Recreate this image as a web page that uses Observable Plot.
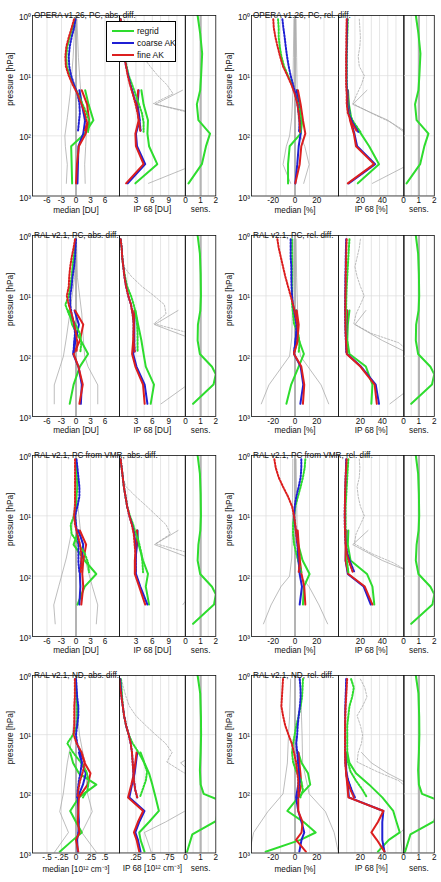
<!DOCTYPE html>
<html>
<head>
<meta charset="utf-8">
<script src="https://cdn.jsdelivr.net/npm/d3@7"></script>
<script src="https://cdn.jsdelivr.net/npm/@observablehq/plot@0.6"></script>
<style>
  html, body { margin: 0; padding: 0; background: #fff; }
  #fig { position: relative; width: 441px; height: 882px; overflow: hidden;
         font-family: "Liberation Sans", Arial, Helvetica, sans-serif; }
  #fig > svg { position: absolute; overflow: visible; }
  .legend { position: absolute; background: #fff; border: 0.8px solid #000; box-sizing: border-box;
            font-size: 8.5px; color: #111; }
  .legend .entry { position: absolute; left: 5px; height: 11px; display: flex; align-items: center; white-space: nowrap; }
</style>
</head>
<body>
<div id="fig"></div>
<script>
// ---------------------------------------------------------------------------
// Pressure levels [hPa]
const pLayerA = [617, 296, 149, 92, 55, 30, 17.5];            // coarse layers, rows 1-2
const pLayerB = [296, 149, 92, 55, 30, 17.5];                 // coarse layers, row 3
const pLayerC = [950, 600, 450, 300, 195, 115, 70, 45, 30, 20]; // layers, row 4
const pFineA = [1.15, 1.6, 2.3, 3.3, 4.8, 7, 10, 14, 20, 29, 42, 60, 86];
const pFineC = [1.15, 1.6, 2.3, 3.3, 4.8, 7, 10, 14, 20, 29, 42, 60, 86, 115];
const pEnvA = [1.15, 5, 20, 50, 100, 150, 300, 617];
const pEnvC = [1.15, 5, 10, 30, 100, 200, 450, 1000];
const pSensA = [1, 2, 4.3, 10, 17.5, 30, 55, 92, 150, 296, 617];
const pSensB = [1, 2, 4.3, 10, 17.5, 30, 55, 92, 150, 200, 296, 617];
const pSensC = [1, 2, 5, 10, 20, 40, 70, 100, 130, 290, 485, 1000];

// Sensitivity profiles
const sensOpera = [0.8, 0.97, 1.1, 1.03, 0.97, 0.75, 0.85, 1.62, 1.35, 1.08, 0.2];
const sensRalPC = [0.8, 0.95, 1.0, 1.02, 0.98, 0.82, 0.8, 0.95, 1.75, 2.0, 1.85, 0.5];
const sensRalVMR = [0.8, 0.95, 1.0, 1.02, 0.98, 0.85, 0.8, 0.97, 1.75, 2.0, 1.88, 0.5];
const sensRalND = [0.8, 0.97, 1.02, 1.03, 1.0, 0.95, 1.0, 1.2, 2.3, 2.0, 0.45, 0.08];

// OPERA v1.26, PC, absolute difference [DU]
const oaMedG = [-0.8, -0.9, -1.0, 1.8, 3.6, 2.6, 1.9];
const oaMedB = [0.3, 0.4, 0.5, 1.5, 1.9, 1.2, 0.7];
const oaMedR = [0.0, 0.2, 0.6, 2.0, 2.7, 2.3, 1.2];
const oaMedGd = [-0.2, -0.7, -1.3, -1.8, -2.0, -1.9, -1.3, -0.5, 0.4, 1.3, 2.2, 2.8, 2.5];
const oaMedBd = [-0.1, -0.4, -0.9, -1.3, -1.5, -1.4, -1.0, -0.4, 0.3, 0.7, 0.8, 0.6, 0.4];
const oaMedRd = [-0.4, -0.9, -1.5, -2.0, -2.2, -2.1, -1.5, -0.7, 0.3, 1.1, 1.8, 2.3, 1.8];
const oaEnvLo = [-0.2, -0.6, -1.2, -1.8, -2.3, -2.2, -1.8, -2.0];
const oaEnvHi = [0.2, 0.5, 1.0, 1.6, 2.1, 2.0, 1.8, 1.9];
const oaIpG = [2.9, 6.9, 5.4, 5.1, 5.2, 4.4, 4.0];
const oaIpB = [1.5, 4.7, 3.2, 3.0, 3.7, 3.3, 3.5];
const oaIpR = [1.2, 4.4, 3.0, 2.9, 3.5, 3.2, 3.4];
const oaIpGd = [0.2, 0.3, 0.5, 0.7, 0.9, 1.3, 1.7, 2.3, 2.9, 3.5, 4.1, 4.4, 4.4];
const oaIpBd = [0.2, 0.3, 0.5, 0.7, 0.9, 1.2, 1.6, 2.0, 2.5, 3.0, 3.4, 3.7, 3.9];
const oaIpRd = [0.2, 0.3, 0.5, 0.7, 0.9, 1.2, 1.5, 1.9, 2.4, 2.9, 3.3, 3.6, 3.8];
const oaIpGrayLo = [5.3, 14, 20, 20, 20, 6.5, 11.5];
const oaIpGrayHi = [0.8, 1.3, 2.0, 3.0, 4.2, 5.6, 7.0, 8.6, 9.8, 6.2, 13, 15, 15];

// OPERA v1.26, PC, relative difference [%]
const orMedG = [-6.4, -6.4, -4.9, 5.2, 6.7, 4.0, 2.1];
const orMedB = [0.3, 2.1, 3.4, 5.2, 4.9, 3.4, 1.5];
const orMedR = [0.3, 4.3, 5.8, 9.5, 7.3, 5.2, 2.7];
const orMedGd = [-15.6, -15, -15, -14, -12.5, -10, -6.4, -2.7, 0.3, 2.7, 4.6, 5.8, 4.9];
const orMedBd = [-11.6, -10.7, -9.5, -8.5, -7.3, -5.8, -4, -1.8, 0.3, 2.1, 3.4, 4.3, 3.7];
const orMedRd = [-20, -19.5, -18, -16, -13.7, -11, -7, -3.4, -0.3, 2.1, 3.4, 4.3, 4.6];
const orEnvLo = [-1, -1.5, -2, -3, -5, -8, -11, -4];
const orEnvHi = [1, 1.5, 2, 3, 5, 9, 13, 8];
const orIpG = [17.6, 37, 28, 20.5, 12, 9.5, 8.7];
const orIpB = [9.3, 33.5, 17, 14.5, 11, 9, 8.3];
const orIpR = [8.5, 32.5, 16, 14, 10.5, 8.5, 8];
const orIpGd = [8.5, 8.3, 8, 7.8, 7.5, 7.5, 7.5, 7.6, 8, 8.3, 9.5, 14, 20];
const orIpBd = [8, 7.8, 7.6, 7.5, 7.3, 7.3, 7.3, 7.4, 7.7, 8, 9, 13, 18];
const orIpRd = [7.5, 7.3, 7.2, 7.2, 7, 7, 7, 7, 7.5, 7.5, 8.5, 12, 17];
const orIpGrayLo = [31, 65, 70, 62, 45, 13, 26];
const orIpGrayHi = [19, 19.5, 20, 19.5, 18, 19, 23.6, 21, 17, 13, 30, 48, 62];

// RAL v2.1, PC, absolute difference [DU]
const raMedG = [-1.3, -0.5, 0.8, 2.5, 1.0, -0.8, -1.5];
const raMedB = [1.0, 1.2, 0.5, -0.6, -0.1, 0.6, -0.3];
const raMedR = [0.7, 1.4, 0.5, -0.5, 0.8, 1.5, -0.2];
const raMedGd = [-0.1, -0.2, -0.5, -0.7, -0.9, -1.2, -1.5, -2.2, -1.5, -0.2, 0.8, 1.1, 0.9];
const raMedBd = [0, -0.1, -0.2, -0.4, -0.7, -0.9, -1.2, -1.2, -0.9, -0.4, -0.2, -0.4, -0.5];
const raMedRd = [-0.2, -0.5, -0.9, -1.2, -1.4, -1.5, -1.9, -1.5, -0.9, -0.4, 0, 0.3, 0.1];
const raEnvLo = [-0.1, -0.3, -1.3, -2, -2.6, -3.3, -4.5, -4.5];
const raEnvHi = [0.1, 0.3, 1.2, 1.5, 1.8, 2.5, 4.5, 4.5];
const raIpG = [5.7, 6.3, 4.8, 4.4, 4.0, 3.4, 2.9];
const raIpB = [5.1, 4.6, 3.1, 2.5, 2.7, 2.7, 2.8];
const raIpR = [4.6, 4.3, 2.9, 2.3, 2.5, 2.6, 2.7];
const raIpGd = [0.2, 0.4, 0.5, 0.7, 1.0, 1.4, 2.1, 2.6, 3.0, 3.2, 3.3, 3.3, 3.3];
const raIpBd = [0.2, 0.4, 0.5, 0.7, 0.9, 1.2, 1.6, 2.1, 2.4, 2.6, 2.6, 2.7, 2.8];
const raIpRd = [0.2, 0.4, 0.5, 0.7, 0.9, 1.2, 1.6, 2.1, 2.4, 2.6, 2.6, 2.6, 2.75];
const raIpGrayLo = [7.6, 12.5, 14, 14, 14, 6.4, 10.7];
const raIpGrayHi = [0.3, 0.4, 0.6, 0.8, 2.2, 4.1, 6.3, 8.2, 8.5, 6.3, 13, 14, 14];

// RAL v2.1, PC, relative difference [%]
const rrMedG = [-7.9, -3.5, 3.4, 8.2, 3.7, 1.5, 0.5];
const rrMedB = [4.9, 7.6, 5.2, -0.9, 0.5, 2.1, 1.2];
const rrMedR = [7.3, 8.5, 5.8, -0.9, 2.3, 3.4, 1.5];
const rrMedGd = [-2.7, -2.7, -2.7, -2.7, -2.7, -2.7, -2.7, -2.7, -1.8, -0.9, 2.7, 4.3, 3.4];
const rrMedBd = [-4, -4, -4, -3.4, -3.4, -3.2, -2.7, -1.8, -0.3, 1.2, 1.2, 0.3, -0.9];
const rrMedRd = [-16.2, -15, -13, -11, -8.9, -6.4, -4, -1.8, 0.3, 2.1, 2.7, 2.1, -0.9];
const rrEnvLo = [-1, -1.5, -2.5, -3, -5, -12, -24, -31];
const rrEnvHi = [1, 1.5, 2.5, 3, 5, 12, 24, 31];
const rrIpG = [30, 31, 25, 10, 8, 8.5, 10];
const rrIpB = [37, 34, 20.5, 7.8, 7.2, 7.4, 8];
const rrIpR = [35, 33, 20, 7.5, 7, 7.2, 7.8];
const rrIpGd = [10, 9.5, 9, 8.5, 8, 7.5, 7.2, 7, 7, 7.2, 7.5, 8, 8.5];
const rrIpBd = [7, 6.8, 6.6, 6.5, 6.3, 6.2, 6.1, 6, 6, 6.2, 6.4, 6.8, 7.2];
const rrIpRd = [7.5, 7.2, 7, 6.8, 6.6, 6.5, 6.3, 6.2, 6.2, 6.3, 6.5, 7, 7.5];
const rrIpGrayLo = [47, 70, 70, 65, 40, 15, 25];
const rrIpGrayHi = [20, 19, 17, 15, 17, 20, 23.5, 20, 16, 14, 30, 55, 65];

// RAL v2.1, PC from VMR, absolute difference [DU]
const vaMedG = [0.3, 1.8, 4.2, 1.8, -0.5, 0.5];
const vaMedB = [0.7, 0.9, 0.8, 1.1, 1.5, 0.5];
const vaMedR = [1.1, 1.5, 1.3, 1.5, 2.1, 0.8];
const vaMedGd = [0, 0.1, 0.2, 0.3, 0.1, 0, -0.4, -1.1, -0.9, 0.5, 1.8, 2.5, 2.7];
const vaMedBd = [0.1, 0.3, 0.5, 0.7, 0.7, 0.3, -0.2, 0, 0.3, 0.5, 0.5, 0.5, 0.7];
const vaMedRd = [-0.2, -0.2, -0.2, -0.2, -0.2, -0.2, -0.4, -0.2, 0.3, 0.8, 1.1, 1.1, 1.0];
const vaEnvLo = [0, -0.2, -1, -2, -3, -3.6, -4.6, -4.3];
const vaEnvHi = [0, 0.2, 1, 1.8, 2.8, 3.4, 4.5, 4.2];
const vaIpG = [5.4, 4.8, 5.2, 4.3, 3.5, 3.2];
const vaIpB = [5.1, 3.8, 3.0, 2.9, 3.2, 3.3];
const vaIpR = [4.7, 3.6, 2.8, 2.8, 3.1, 3.2];
const vaIpGd = [0.2, 0.4, 0.6, 0.8, 1.1, 1.4, 1.9, 2.5, 3.0, 3.6, 4.0, 4.2, 4.3];
const vaIpBd = [0.2, 0.4, 0.6, 0.8, 1.1, 1.4, 1.8, 2.3, 2.7, 2.9, 3.0, 3.0, 3.0];
const vaIpRd = [0.2, 0.4, 0.6, 0.8, 1.1, 1.4, 1.8, 2.25, 2.6, 2.75, 2.9, 2.9, 2.9];
const vaIpGrayLo = [11.6, 14, 14, 14, 6.4, 10.7];
const vaIpGrayHi = [0.2, 0.3, 0.6, 1.2, 3.0, 5.0, 6.8, 8.5, 9.3, 6.6, 13, 14, 14];

// RAL v2.1, PC from VMR, relative difference [%]
const vrMedG = [7.3, 8.2, 13.4, 7, 3, 1.5];
const vrMedB = [4.3, 6.4, 4.3, 3.4, 2.7, 1.5];
const vrMedR = [9.5, 8.5, 6, 4.5, 3.4, 2.5];
const vrMedGd = [9.5, 8.9, 7.3, 5.2, 2.7, 0.3, -0.9, -1.8, -1.8, -0.9, 1.2, 3.4, 5.8];
const vrMedBd = [5.8, 5.8, 5.2, 3.4, 1.2, -0.3, -0.9, 0, 1.2, 2.1, 2.7, 3.4, 4.3];
const vrMedRd = [-19, -17.7, -15, -11, -6.4, -2.7, -0.9, 0.3, 1.2, 2.7, 3.7, 4.3, 3.4];
const vrEnvLo = [-2, -2.2, -2.5, -3, -5, -13, -22, -29];
const vrEnvHi = [1, 1.5, 2, 3, 5, 13, 22, 30];
const vrIpG = [32.7, 31, 26, 11, 8.5, 9];
const vrIpB = [29.5, 23, 8.5, 6.5, 6.8, 7.2];
const vrIpR = [31, 24, 9, 6.5, 6.5, 7];
const vrIpGd = [9, 8.5, 8, 7.5, 7, 6.5, 6.5, 6.5, 6.5, 7, 7.5, 8, 9];
const vrIpBd = [7, 6.8, 6.5, 6.2, 6, 5.8, 5.7, 5.8, 6, 6.5, 8, 11, 14.5];
const vrIpRd = [7.5, 7, 6.5, 6.2, 6, 5.8, 5.7, 5.8, 6, 6.5, 7.5, 10, 13];
const vrIpGrayLo = [70, 70, 70, 40, 13, 27];
const vrIpGrayHi = [19, 19.5, 19, 17, 18, 20, 23.6, 20, 16, 14.5, 30, 50, 65];

// RAL v2.1, ND, absolute difference [10^12 cm^-3]
const naMedG = [-0.28, -0.05, 0.1, 0.0, -0.1, 0.05, 0.35, 0.05, -0.05, -0.1];
const naMedB = [0.03, 0.02, 0.04, 0.05, 0.04, 0.03, 0.12, 0.17, 0.1, 0.05];
const naMedR = [0.04, 0.0, 0.06, 0.03, 0.04, 0.05, 0.2, 0.25, 0.15, 0.08];
const naMedGd = [0, 0, 0.01, 0.02, 0.02, 0.02, -0.05, -0.15, -0.05, 0.08, 0.18, 0.22, 0.2, 0.12];
const naMedBd = [0, 0.01, 0.02, 0.04, 0.04, 0.02, 0, 0.02, 0.07, 0.1, 0.08, 0.05, 0.03, 0.02];
const naMedRd = [-0.02, -0.02, -0.02, -0.03, -0.03, -0.03, -0.04, 0.01, 0.1, 0.15, 0.12, 0.07, 0.04, 0.03];
const naEnvLo = [-0.01, -0.03, -0.06, -0.15, -0.22, -0.28, -0.13, -0.38];
const naEnvHi = [0.01, 0.03, 0.06, 0.15, 0.2, 0.28, 0.1, 0.36];
const naIpG = [0.38, 0.32, 0.30, 0.45, 0.6, 0.55, 0.5, 0.45, 0.38, 0.32];
const naIpB = [0.32, 0.28, 0.24, 0.3, 0.38, 0.15, 0.19, 0.23, 0.25, 0.27];
const naIpR = [0.30, 0.26, 0.22, 0.28, 0.36, 0.13, 0.18, 0.22, 0.24, 0.26];
const naIpGd = [0.02, 0.03, 0.04, 0.05, 0.07, 0.1, 0.14, 0.2, 0.29, 0.37, 0.42, 0.4, 0.35, 0.31];
const naIpBd = [0.01, 0.02, 0.03, 0.05, 0.07, 0.1, 0.14, 0.17, 0.19, 0.2, 0.21, 0.22, 0.24, 0.27];
const naIpRd = [0.0, 0.01, 0.03, 0.05, 0.07, 0.1, 0.14, 0.17, 0.19, 0.2, 0.21, 0.22, 0.24, 0.27];
const naIpGrayLo = [0.48, 0.42, 0.38, 0.7, 1.0, 1.2, 1.2, 1.1, 0.93, 1.2];
const naIpGrayHi = [0.03, 0.06, 0.1, 0.15, 0.25, 0.4, 0.55, 0.7, 0.8, 0.72, 0.95, 1.2, 1.2, 1.2];

// RAL v2.1, ND, relative difference [%]
const nrMedG = [-27, 5, 19, 8, -7, 3, 14, 12, 6, 3];
const nrMedB = [4, 6, 8.5, 6, 3, 1, 3, 4, 3.5, 3];
const nrMedR = [10, 1, 6, 7, 3, 3, 5.8, 5, 4, 3];
const nrMedGd = [7.3, 7, 6.5, 5.2, 3.4, 1.2, -0.3, -1.8, -2.7, -1.8, 1.2, 5.8, 7.3, 5];
const nrMedBd = [4.3, 5, 5.2, 4.5, 3.4, 2.5, 2, 1.2, 2, 2.7, 3.4, 4.3, 3.4, 2.7];
const nrMedRd = [-11, -11.5, -12, -12.5, -11, -9, -6, -3, -1, 1, 2, 3, 3, 3.3];
const nrEnvLo = [-4, -5, -6, -7, -11, -25, -38, -42];
const nrEnvHi = [5, 6, 6.5, 7, 13, 28, 36, 40];
const nrIpG = [36, 46, 56, 53, 50, 40, 28, 16, 10, 8];
const nrIpB = [42, 40, 40, 40, 41, 9.5, 8.5, 7.2, 6.8, 6.8];
const nrIpR = [42, 35, 30, 36, 41, 9, 8, 7, 6.5, 6.5];
const nrIpGd = [11.5, 14, 12.5, 10, 9, 8, 8, 8, 8, 8.5, 11, 16, 22, 26];
const nrIpBd = [7, 6.8, 6.5, 6.2, 6, 6, 6, 6, 6, 6.3, 7, 9, 12, 15];
const nrIpRd = [7.9, 7.5, 7, 6.5, 6.2, 6, 6, 6, 6, 6.2, 6.8, 8, 11, 14];
const nrIpGrayLo = [58, 57, 57, 65, 65, 65, 65, 45, 30, 21];
const nrIpGrayHi = [20, 24, 26, 22, 17, 20, 22, 21, 18, 17, 35, 55, 65, 65];

// Legend
const legendNames = ["regrid", "coarse AK", "fine AK"];

// ---------------------------------------------------------------------------
const GREEN = "#2edc2e", BLUE = "#1f1fd4", RED = "#dc1f1f", GRAY = "#a0a0a0";
const seriesColors = [GREEN, BLUE, RED];
const FS = 8.2;
const FONT = "'Liberation Sans', Arial, Helvetica, sans-serif";

const sup = {"0": "⁰", "1": "¹", "2": "²", "3": "³"};
const decadeLabel = d => "10" + sup[String(Math.round(Math.log10(d)))];
const plainLabel = d => String(d);
const fracLabel = d => d === 0 ? "0" : (d < 0 ? "-" : "") + String(Math.abs(d)).replace(/^0\./, ".");
const steps = (max, n) => d3.range(1, n).map(i => max * i / n);

// Axis settings per difference type
const axesByKind = {
  abs: {
    med: {domain: [-9, 9], ticks: [-6, -3, 0, 3, 6], grid: [-6, -3, 3, 6], fmt: plainLabel, label: "median [DU]"},
    ip: {domain: [0, 12], ticks: [3, 6, 9], grid: steps(12, 8), fmt: plainLabel, label: "IP 68 [DU]"}
  },
  rel: {
    med: {domain: [-40, 40], ticks: [-20, 0, 20], grid: [-80 / 3, -40 / 3, 40 / 3, 80 / 3], fmt: plainLabel, label: "median [%]"},
    ip: {domain: [0, 60], ticks: [20, 40], grid: steps(60, 8), fmt: plainLabel, label: "IP 68 [%]"}
  },
  nd: {
    med: {domain: [-0.75, 0.75], ticks: [-0.5, -0.25, 0, 0.25, 0.5], grid: [-0.5, -0.25, 0.25, 0.5], fmt: fracLabel, label: "median [10¹² cm⁻³]"},
    ip: {domain: [0, 1], ticks: [0.25, 0.5, 0.75], grid: steps(1, 8), fmt: fracLabel, label: "IP 68 [10¹² cm⁻³]"}
  }
};
const sensAxis = {domain: [0, 2], ticks: [0, 1, 2], grid: [0.5, 1.5], fmt: plainLabel, label: "sens."};

// Panel geometry (frame edges in page pixels)
const columns = [
  {med: [32, 119], ip: [119, 184.7], sens: [184.7, 215]},
  {med: [250.5, 337.5], ip: [337.5, 403.2], sens: [403.2, 434]}
];
const rowsGeom = [
  {top: 15, height: 180.5, labelDy: 16.5},
  {top: 235, height: 181, labelDy: 16.5},
  {top: 455, height: 181, labelDy: 16.5},
  {top: 675, height: 177.5, labelDy: 18.5}
];

const panels = [
  {row: 0, col: 0, kind: "abs", title: "OPERA v1.26, PC, abs. diff.", pLay: pLayerA, pFine: pFineA, pEnv: pEnvA,
   med: [oaMedG, oaMedB, oaMedR], medFine: [oaMedGd, oaMedBd, oaMedRd], env: [oaEnvLo, oaEnvHi],
   ip: [oaIpG, oaIpB, oaIpR], ipFine: [oaIpGd, oaIpBd, oaIpRd], ipGray: [oaIpGrayLo, oaIpGrayHi],
   pSens: pSensA, sens: sensOpera},
  {row: 0, col: 1, kind: "rel", title: "OPERA v1.26, PC, rel. diff.", pLay: pLayerA, pFine: pFineA, pEnv: pEnvA,
   med: [orMedG, orMedB, orMedR], medFine: [orMedGd, orMedBd, orMedRd], env: [orEnvLo, orEnvHi],
   ip: [orIpG, orIpB, orIpR], ipFine: [orIpGd, orIpBd, orIpRd], ipGray: [orIpGrayLo, orIpGrayHi],
   pSens: pSensA, sens: sensOpera},
  {row: 1, col: 0, kind: "abs", title: "RAL v2.1, PC, abs. diff.", pLay: pLayerA, pFine: pFineA, pEnv: pEnvA,
   med: [raMedG, raMedB, raMedR], medFine: [raMedGd, raMedBd, raMedRd], env: [raEnvLo, raEnvHi],
   ip: [raIpG, raIpB, raIpR], ipFine: [raIpGd, raIpBd, raIpRd], ipGray: [raIpGrayLo, raIpGrayHi],
   pSens: pSensB, sens: sensRalPC},
  {row: 1, col: 1, kind: "rel", title: "RAL v2.1, PC, rel. diff.", pLay: pLayerA, pFine: pFineA, pEnv: pEnvA,
   med: [rrMedG, rrMedB, rrMedR], medFine: [rrMedGd, rrMedBd, rrMedRd], env: [rrEnvLo, rrEnvHi],
   ip: [rrIpG, rrIpB, rrIpR], ipFine: [rrIpGd, rrIpBd, rrIpRd], ipGray: [rrIpGrayLo, rrIpGrayHi],
   pSens: pSensB, sens: sensRalPC},
  {row: 2, col: 0, kind: "abs", title: "RAL v2.1, PC from VMR, abs. diff.", pLay: pLayerB, pFine: pFineA, pEnv: pEnvA,
   med: [vaMedG, vaMedB, vaMedR], medFine: [vaMedGd, vaMedBd, vaMedRd], env: [vaEnvLo, vaEnvHi],
   ip: [vaIpG, vaIpB, vaIpR], ipFine: [vaIpGd, vaIpBd, vaIpRd], ipGray: [vaIpGrayLo, vaIpGrayHi],
   pSens: pSensB, sens: sensRalVMR},
  {row: 2, col: 1, kind: "rel", title: "RAL v2.1, PC from VMR, rel. diff.", pLay: pLayerB, pFine: pFineA, pEnv: pEnvA,
   med: [vrMedG, vrMedB, vrMedR], medFine: [vrMedGd, vrMedBd, vrMedRd], env: [vrEnvLo, vrEnvHi],
   ip: [vrIpG, vrIpB, vrIpR], ipFine: [vrIpGd, vrIpBd, vrIpRd], ipGray: [vrIpGrayLo, vrIpGrayHi],
   pSens: pSensB, sens: sensRalVMR},
  {row: 3, col: 0, kind: "nd", title: "RAL v2.1, ND, abs. diff.", pLay: pLayerC, pFine: pFineC, pEnv: pEnvC,
   med: [naMedG, naMedB, naMedR], medFine: [naMedGd, naMedBd, naMedRd], env: [naEnvLo, naEnvHi],
   ip: [naIpG, naIpB, naIpR], ipFine: [naIpGd, naIpBd, naIpRd], ipGray: [naIpGrayLo, naIpGrayHi],
   pSens: pSensC, sens: sensRalND},
  {row: 3, col: 1, kind: "rel", title: "RAL v2.1, ND, rel. diff.", pLay: pLayerC, pFine: pFineC, pEnv: pEnvC,
   med: [nrMedG, nrMedB, nrMedR], medFine: [nrMedGd, nrMedBd, nrMedRd], env: [nrEnvLo, nrEnvHi],
   ip: [nrIpG, nrIpB, nrIpR], ipFine: [nrIpGd, nrIpBd, nrIpRd], ipGray: [nrIpGrayLo, nrIpGrayHi],
   pSens: pSensC, sens: sensRalND}
];

// ---------------------------------------------------------------------------
const fig = document.getElementById("fig");
const profile = (p, v) => p.map((q, i) => ({p: q, v: v[i]}));

// One framed sub-axis: x = quantity, y = pressure (log, 1 hPa at top)
function subplot({x0, x1, row, axis, curves, ref, yAxis, title}) {
  const marks = [
    Plot.ruleX(axis.grid, {stroke: "#d3d3d3", strokeWidth: 0.6}),
    Plot.ruleY([10, 100], {stroke: "#dcdcdc", strokeWidth: 0.7})
  ];
  if (ref) marks.push(Plot.ruleX([ref.at], {stroke: ref.color, strokeWidth: ref.width}));
  for (const c of curves) {
    marks.push(Plot.line(profile(c.p, c.v), {
      x: "v", y: "p", stroke: c.color, strokeWidth: c.width,
      strokeDasharray: c.dash, clip: true
    }));
  }
  marks.push(Plot.frame({stroke: "#111", strokeWidth: 0.8}));
  marks.push(Plot.axisX({ticks: axis.ticks, tickFormat: axis.fmt, tickSize: 0, tickPadding: 1.5,
                         fontSize: FS, label: null}));
  marks.push(Plot.text([axis.label], {text: d => d, frameAnchor: "bottom", dy: row.labelDy, fontSize: FS}));
  if (yAxis) {
    marks.push(Plot.axisY({ticks: [1, 10, 100, 1000], tickFormat: decadeLabel, tickSize: 0, tickPadding: 1.5,
                           dy: 2, fontSize: FS, label: null}));
    marks.push(Plot.text(["pressure [hPa]"], {text: d => d, frameAnchor: "left", rotate: -90, dx: -22, fontSize: FS}));
  }
  if (title) {
    marks.push(Plot.text([title], {text: d => d, frameAnchor: "top-left", textAnchor: "start",
                                   dx: 1.5, dy: -3, fontSize: FS}));
  }
  const svg = Plot.plot({
    width: x1 - x0, height: row.height,
    marginTop: 0, marginRight: 0, marginBottom: 0, marginLeft: 0,
    x: {domain: axis.domain, axis: null},
    y: yAxis ? {type: "log", domain: [1, 1000], reverse: true}
             : {type: "log", domain: [1, 1000], reverse: true, axis: null},
    style: {background: "transparent", overflow: "visible", fontFamily: FONT, fontSize: FS + "px", color: "#111"},
    marks
  });
  svg.style.left = x0 + "px";
  svg.style.top = row.top + "px";
  fig.appendChild(svg);
}

// Solid lines on the coarse grid, dotted lines on the fine grid
function colourSet(pSolid, solid, pDotted, dotted) {
  const out = [];
  solid.forEach((v, i) => out.push({p: pSolid, v, color: seriesColors[i], width: 2}));
  dotted.forEach((v, i) => out.push({p: pDotted, v, color: seriesColors[i], width: 2, dash: "1.6,1.6"}));
  return out;
}

for (const pan of panels) {
  const col = columns[pan.col], row = rowsGeom[pan.row], axes = axesByKind[pan.kind];
  subplot({
    x0: col.med[0], x1: col.med[1], row, axis: axes.med, yAxis: true, title: pan.title,
    ref: {at: 0, color: "#8a8a8a", width: 1.3},
    curves: [
      {p: pan.pEnv, v: pan.env[0], color: GRAY, width: 0.7},
      {p: pan.pEnv, v: pan.env[1], color: GRAY, width: 0.7},
      ...colourSet(pan.pLay, pan.med, pan.pFine, pan.medFine)
    ]
  });
  subplot({
    x0: col.ip[0], x1: col.ip[1], row, axis: axes.ip,
    curves: [
      {p: pan.pLay, v: pan.ipGray[0], color: GRAY, width: 0.7},
      {p: pan.pFine, v: pan.ipGray[1], color: GRAY, width: 0.7, dash: "2,1.5"},
      ...colourSet(pan.pLay, pan.ip, pan.pFine, pan.ipFine)
    ]
  });
  subplot({
    x0: col.sens[0], x1: col.sens[1], row, axis: sensAxis,
    ref: {at: 1, color: "#b4b4b4", width: 2.2},
    curves: [{p: pan.pSens, v: pan.sens, color: GREEN, width: 2}]
  });
}

// Legend box in the first panel
const lg = document.createElement("div");
lg.className = "legend";
Object.assign(lg.style, {left: "106px", top: "21px", width: "70px", height: "41px"});
legendNames.forEach((name, i) => {
  const e = document.createElement("div");
  e.className = "entry";
  e.style.top = (3 + i * 12) + "px";
  e.innerHTML = `<svg width="22" height="6"><line x1="0" x2="22" y1="3" y2="3" stroke="${seriesColors[i]}" stroke-width="2"/></svg>` +
                `<span style="margin-left:3px">${name}</span>`;
  lg.appendChild(e);
});
fig.appendChild(lg);
</script>
</body>
</html>
